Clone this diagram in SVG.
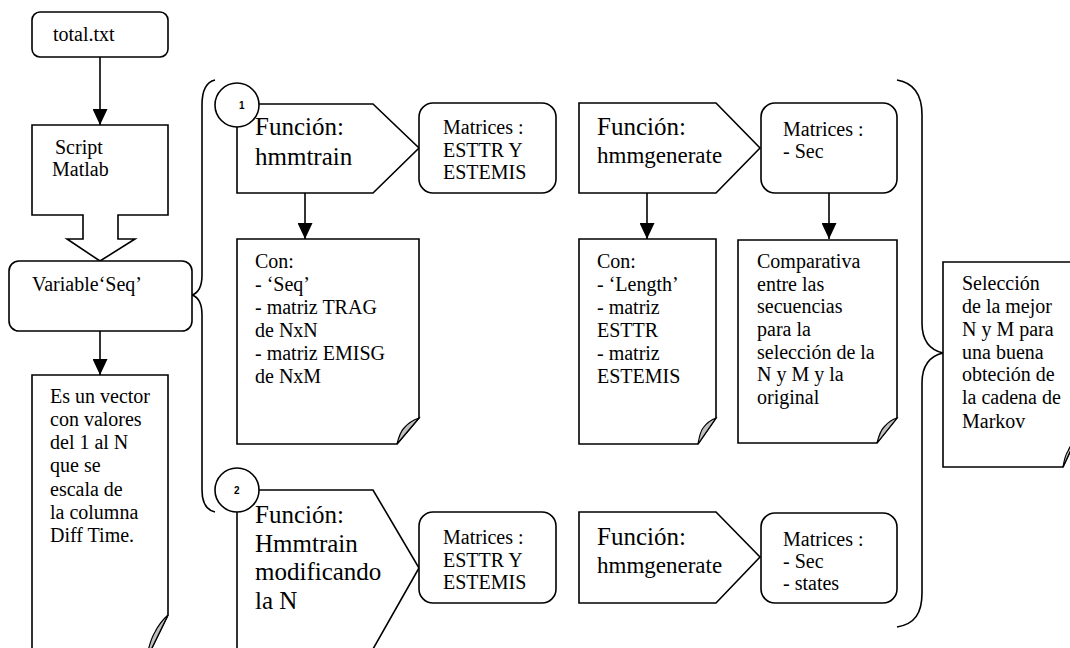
<svg xmlns="http://www.w3.org/2000/svg" width="1070" height="648" viewBox="0 0 1070 648">
<style>
.s{fill:#fff;stroke:#000;stroke-width:1.6;stroke-linejoin:miter}
.b{fill:none;stroke:#000;stroke-width:1.6}
.fold{fill:#c0c0c0;stroke:#000;stroke-width:1.2}
text{font-family:"Liberation Serif","Times New Roman",serif;font-size:20px;fill:#000}
.big{font-size:25px}
.mid{font-size:23px}
.num{font-family:"Liberation Sans",Arial,sans-serif;font-size:10px;font-weight:bold}
</style>
<defs>
<marker id="ah" markerWidth="16" markerHeight="15" refX="16" refY="7.5" orient="auto" markerUnits="userSpaceOnUse"><path d="M0,0 L16,7.5 L0,15 Z" fill="#000"/></marker>
</defs>
<rect width="1070" height="648" fill="#fff"/>

<g id="connectors">
<line class="b" x1="100" y1="57" x2="100" y2="125" marker-end="url(#ah)"/>
<line class="b" x1="100" y1="331" x2="100" y2="375" marker-end="url(#ah)"/>
<line class="b" x1="305" y1="193" x2="305" y2="239" marker-end="url(#ah)"/>
<line class="b" x1="647" y1="193" x2="647" y2="239" marker-end="url(#ah)"/>
<line class="b" x1="829" y1="193" x2="829" y2="239" marker-end="url(#ah)"/>
<path id="brace-left" class="b" d="M215,80 C206,82 202,92 202,105 V275 C202,287 198,293 192,295 C198,297 202,303 202,315 V490 C202,503 206,510 215,512"/>
<path id="brace-right" class="b" d="M897,80 C915,83 922,97 922,115 V323 C922,340 930,350 943,353 C930,356 922,366 922,383 V593 C922,613 915,624 897,627"/>
</g>

<g id="total">
<rect class="s" x="32" y="12" width="136" height="45" rx="8"/>
<text x="53" y="41">total.txt</text>
</g>

<g id="script">
<path class="s" d="M32,125 H168 V215 H118 V239 H135 L100,261 L67,239 H83 V215 H32 Z"/>
<text x="55" y="154">Script</text>
<text x="52" y="176">Matlab</text>
</g>

<g id="variable">
<rect class="s" x="9" y="261" width="183" height="70" rx="10"/>
<text x="32" y="291">Variable‘Seq’</text>
</g>

<g id="vector">
<path class="s" d="M32,375 H168 V615 L146,660 H32 Z"/>
<path class="fold" d="M168,615 L146,660 Q150,640 155,632 Q160,622 168,615 Z"/>
<text x="50" y="403">Es un vector</text>
<text x="50" y="426">con valores</text>
<text x="50" y="449">del 1 al N</text>
<text x="50" y="472">que se</text>
<text x="50" y="496">escala  de</text>
<text x="50" y="519">la columna</text>
<text x="50" y="542">Diff Time.</text>
</g>

<g id="hmmtrain1">
<path class="s" d="M237,104 H373 L419,148 L373,193 H237 Z"/>
<circle class="s" cx="237" cy="105" r="22"/>
<text class="num" x="239" y="109">1</text>
<text class="big" x="255" y="135">Función:</text>
<text class="big" x="255" y="165">hmmtrain</text>
</g>

<g id="matrices1">
<rect class="s" x="419" y="103" width="137" height="90" rx="14"/>
<text x="443" y="134">Matrices :</text>
<text x="443" y="157">ESTTR Y</text>
<text x="443" y="179">ESTEMIS</text>
</g>

<g id="con1">
<path class="s" d="M237,239 H419 V418 L397,444 H237 Z"/>
<path class="fold" d="M419,418 L397,444 Q400,432 404,428 Q410,421 419,418 Z"/>
<text x="255" y="268">Con:</text>
<text x="255" y="291">- ‘Seq’</text>
<text x="255" y="314">- matriz TRAG</text>
<text x="255" y="337">de NxN</text>
<text x="255" y="360">- matriz EMISG</text>
<text x="255" y="383">de NxM</text>
</g>

<g id="hmmgenerate1">
<path class="s" d="M579,103 H716 L760,148 L716,193 H579 Z"/>
<text class="big" x="597" y="135">Función:</text>
<text class="mid" x="597" y="163">hmmgenerate</text>
</g>

<g id="matrices-sec">
<rect class="s" x="761" y="103" width="136" height="90" rx="14"/>
<text x="783" y="136">Matrices :</text>
<text x="783" y="158">- Sec</text>
</g>

<g id="con2">
<path class="s" d="M579,239 H716 V418 L698,444 H579 Z"/>
<path class="fold" d="M716,418 L698,444 Q700,432 703,428 Q708,421 716,418 Z"/>
<text x="597" y="268">Con:</text>
<text x="597" y="291">- ‘Length’</text>
<text x="597" y="314">- matriz</text>
<text x="597" y="337">ESTTR</text>
<text x="597" y="360">- matriz</text>
<text x="597" y="383">ESTEMIS</text>
</g>

<g id="comparativa">
<path class="s" d="M738,240 H897 V418 L877,443 H738 Z"/>
<path class="fold" d="M897,418 L877,443 Q880,431 884,427 Q890,420 897,418 Z"/>
<text x="757" y="268">Comparativa</text>
<text x="757" y="291">entre las</text>
<text x="757" y="313">secuencias</text>
<text x="757" y="336">para la</text>
<text x="757" y="359">selección de la</text>
<text x="757" y="381">N y M y la</text>
<text x="757" y="404">original</text>
</g>

<g id="seleccion">
<path class="s" d="M943,262 H1075 V441 L1063,467 H943 Z"/>
<path class="fold" d="M1075,441 L1063,467 Q1065,455 1068,451 Q1071,444 1075,441 Z"/>
<text x="962" y="290">Selección</text>
<text x="962" y="313">de la mejor</text>
<text x="962" y="336">N y M para</text>
<text x="962" y="359">una buena</text>
<text x="962" y="381">obteción de</text>
<text x="962" y="404">la cadena de</text>
<text x="962" y="428">Markov</text>
</g>

<g id="hmmtrain2">
<path class="s" d="M237,490 H373 L419,568 L373,649 H237 Z"/>
<circle class="s" cx="237" cy="490" r="22"/>
<text class="num" x="234" y="494">2</text>
<text class="big" x="255" y="523">Función:</text>
<text class="big" x="255" y="552">Hmmtrain</text>
<text class="big" x="255" y="580">modificando</text>
<text class="big" x="255" y="609">la N</text>
</g>

<g id="matrices2">
<rect class="s" x="419" y="512" width="137" height="91" rx="14"/>
<text x="443" y="544">Matrices :</text>
<text x="443" y="567">ESTTR Y</text>
<text x="443" y="589">ESTEMIS</text>
</g>

<g id="hmmgenerate2">
<path class="s" d="M579,512 H716 L760,557 L716,603 H579 Z"/>
<text class="big" x="597" y="545">Función:</text>
<text class="mid" x="597" y="573">hmmgenerate</text>
</g>

<g id="matrices-states">
<rect class="s" x="761" y="513" width="136" height="90" rx="14"/>
<text x="783" y="546">Matrices :</text>
<text x="783" y="568">- Sec</text>
<text x="783" y="590">- states</text>
</g>
</svg>
